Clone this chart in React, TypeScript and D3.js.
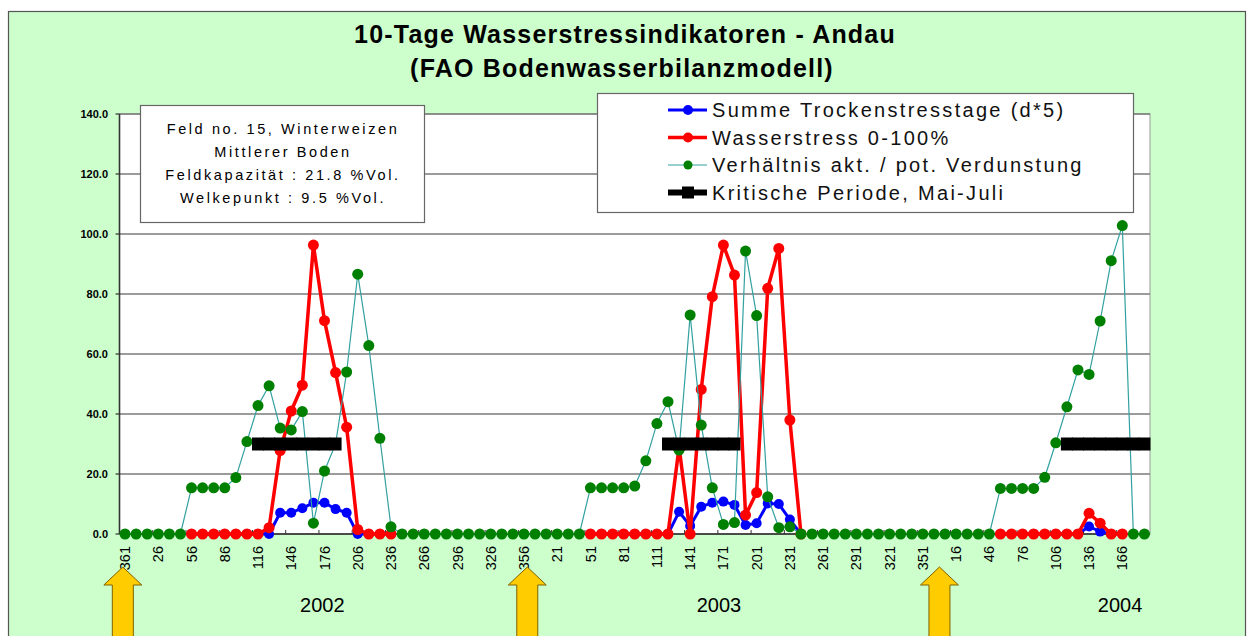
import React from 'react';
import * as d3 from 'd3';

// day of year for each 10-day step (361 of 2001 ... 186 of 2004)
const days = [
  361,
  6, 16, 26, 36, 46, 56, 66, 76, 86, 96, 106, 116, 126, 136, 146, 156, 166, 176,
  186, 196, 206, 216, 226, 236, 246, 256, 266, 276, 286, 296, 306, 316, 326, 336, 346, 356,
  1, 11, 21, 31, 41, 51, 61, 71, 81, 91, 101, 111, 121, 131, 141, 151, 161, 171, 181,
  191, 201, 211, 221, 231, 241, 251, 261, 271, 281, 291, 301, 311, 321, 331, 341, 351, 361,
  6, 16, 26, 36, 46, 56, 66, 76, 86, 96, 106, 116, 126, 136, 146, 156, 166, 176, 186,
];

const N = null;

// Summe Trockenstresstage (d*5)
const trockenstress = [
  N, N, N, N, N, N,
  0, 0, 0, 0, 0, 0, 0, 0, 7.1, 7.1, 8.6, 10.4, 10.4, 8.3, 7.1, 0, 0, 0, 0,
  N, N, N, N, N, N, N, N, N, N, N, N, N, N, N, N, N,
  0, 0, 0, 0, 0, 0, 0, 0, 7.4, 2.7, 9.1, 10.4, 10.8, 9.7, 3, 3.6, 10.2, 10, 4.8, 0,
  N, N, N, N, N, N, N, N, N, N, N, N, N, N, N, N, N,
  0, 0, 0, 0, 0, 0, 0, 0, 2.5, 0.8, 0, 0,
  N, N,
];

// Wasserstress 0-100%
const wasserstress = [
  N, N, N, N, N, N,
  0, 0, 0, 0, 0, 0, 0, 2.1, 27.8, 41, 49.6, 96.3, 71.1, 53.8, 35.6, 1.5, 0, 0, 0,
  N, N, N, N, N, N, N, N, N, N, N, N, N, N, N, N, N,
  0, 0, 0, 0, 0, 0, 0, 0, 29, 0, 48.2, 79.1, 96.3, 86.3, 6.3, 13.8, 81.9, 95.2, 38, 0,
  N, N, N, N, N, N, N, N, N, N, N, N, N, N, N, N, N,
  0, 0, 0, 0, 0, 0, 0, 0, 6.9, 3.6, 0, 0,
  N, N,
];

// Verhältnis akt. / pot. Verdunstung
const verhaeltnis = [
  0, 0, 0, 0, 0, 0,
  15.4, 15.4, 15.4, 15.4, 18.8, 30.8, 42.8, 49.4, 35.3, 34.7, 40.8, 3.6, 21, 30, 54, 86.6, 62.8, 31.9, 2.4,
  0, 0, 0, 0, 0, 0, 0, 0, 0, 0, 0, 0, 0, 0, 0, 0, 0,
  15.4, 15.4, 15.4, 15.4, 16, 24.4, 36.8, 44.1, 28, 73, 36.3, 15.4, 3.2, 3.8, 94.3, 72.8, 12.4, 2.1, 2.4,
  0, 0, 0, 0, 0, 0, 0, 0, 0, 0, 0, 0, 0, 0, 0, 0, 0, 0,
  15.2, 15.2, 15.2, 15.2, 18.9, 30.4, 42.4, 54.7, 53.2, 71, 91.1, 102.8, 0, 0,
];

// Kritische Periode, Mai-Juli
const kritisch = [
  N, N, N, N, N, N, N, N, N, N, N, N,
  30, 30, 30, 30, 30, 30, 30, 30,
  N, N, N, N, N, N, N, N, N, N, N, N, N, N, N, N, N, N, N, N, N, N, N, N, N, N, N, N, N,
  30, 30, 30, 30, 30, 30, 30,
  N, N, N, N, N, N, N, N, N, N, N, N, N, N, N, N, N, N, N, N, N, N, N, N, N, N, N, N, N,
  30, 30, 30, 30, 30, 30, 30, 30,
];

const yTicks = [0, 20, 40, 60, 80, 100, 120, 140];
const years = ['2002', '2003', '2004'];
const yearAt = [17.8, 53.6, 89.8];
const arrowAt = [-0.2, 36.3, 73.5];

const legendItems = [
  'Summe Trockenstresstage (d*5)',
  'Wasserstress 0-100%',
  'Verhältnis akt. / pot. Verdunstung',
  'Kritische Periode, Mai-Juli',
];
const infoLines = [
  'Feld no. 15,  Winterweizen',
  'Mittlerer Boden',
  'Feldkapazität : 21.8 %Vol.',
  'Welkepunkt : 9.5 %Vol.',
];

const FONT = '"Liberation Sans", Arial, sans-serif';

const App = () => {
  const W = 1252;
  const H = 636;
  const plot = { left: 119.5, right: 1150, top: 114, bottom: 534 };

  const x = d3.scaleLinear().domain([-0.5, days.length - 0.5]).range([plot.left, plot.right]);
  const y = d3.scaleLinear().domain([0, 140]).range([plot.bottom, plot.top]);

  const line = d3.line<number | null>()
    .defined(d => d != null)
    .x((d, i) => x(i))
    .y(d => y(d as number));

  const series = [
    { data: trockenstress, color: '#0000ff', width: 3, r: 5 },
    { data: wasserstress, color: '#ff0000', width: 3.5, r: 5.5 },
    { data: verhaeltnis, color: '#33a0a0', width: 1.2, r: 5.5, marker: '#008000' },
  ];

  const arrow = (cx: number) => {
    const tip = 567, base = 585, hw = 19, sw = 10.5;
    return `M${cx},${tip} L${cx + hw},${base} L${cx + sw},${base} L${cx + sw},${H + 5} L${cx - sw},${H + 5} L${cx - sw},${base} L${cx - hw},${base} Z`;
  };

  return (
    <svg width={W} height={H} style={{ position: 'absolute', left: 0, top: 0, fontFamily: FONT }}>
      <rect x={0} y={0} width={W} height={H} fill="#fff" />
      <rect x={8.5} y={11.5} width={1237} height={H} fill="#ccffcc" stroke="#555" strokeWidth={1.2} />

      {/* title */}
      <text x={625} y={43} textAnchor="middle" fontSize={25} fontWeight="bold" letterSpacing={1.2}>10-Tage Wasserstressindikatoren - Andau</text>
      <text x={622} y={77} textAnchor="middle" fontSize={25} fontWeight="bold" letterSpacing={1.2}>(FAO Bodenwasserbilanzmodell)</text>

      {/* plot area */}
      <rect x={plot.left} y={plot.top} width={plot.right - plot.left} height={plot.bottom - plot.top} fill="#fff" stroke="#999" />
      {yTicks.map(t => (
        <g key={t}>
          {t > 0 && <line x1={plot.left} x2={plot.right} y1={y(t)} y2={y(t)} stroke="#7a7a7a" strokeWidth={1.5} />}
          <line x1={plot.left - 4} x2={plot.left} y1={y(t)} y2={y(t)} stroke="#333" strokeWidth={1.2} />
          <text x={108} y={y(t)} dy="0.35em" textAnchor="end" fontSize={11} fontWeight="bold">{t.toFixed(1)}</text>
        </g>
      ))}
      <line x1={plot.left} x2={plot.left} y1={plot.top} y2={plot.bottom} stroke="#333" strokeWidth={1.6} />
      <line x1={plot.left} x2={plot.right} y1={plot.bottom} y2={plot.bottom} stroke="#222" strokeWidth={1.4} />
      {days.map((d, i) => (i % 3 === 0 ? (
        <g key={i}>
          <line x1={x(i - 0.5)} x2={x(i - 0.5)} y1={plot.bottom} y2={plot.bottom - 4} stroke="#333" />
          <text transform={`translate(${x(i)},546) rotate(-90)`} textAnchor="end" dy="0.35em" fontSize={14.5}>{d}</text>
        </g>
      ) : null))}

      {/* series */}
      {series.map((s, k) => (
        <g key={k}>
          <path d={line(s.data) || ''} fill="none" stroke={s.color} strokeWidth={s.width} strokeLinejoin="round" />
          {s.data.map((v, i) => (v == null ? null : (
            <circle key={i} cx={x(i)} cy={y(v)} r={s.r} fill={s.marker || s.color} />
          )))}
        </g>
      ))}
      <g>
        <path d={line(kritisch) || ''} fill="none" stroke="#000" strokeWidth={12} />
        {kritisch.map((v, i) => (v == null ? null : (
          <rect key={i} x={x(i) - 6} y={y(v) - 6.5} width={12} height={13} fill="#000" />
        )))}
      </g>

      {/* info box */}
      <rect x={140.5} y={105.5} width={284} height={117} fill="#fff" stroke="#666" strokeWidth={1.2} />
      {infoLines.map((t, i) => (
        <text key={i} x={283} y={134 + i * 23} textAnchor="middle" fontSize={14.5} letterSpacing={2.6}>{t}</text>
      ))}

      {/* legend */}
      <rect x={597.5} y={93.5} width={536} height={119} fill="#fff" stroke="#666" strokeWidth={1.2} />
      {legendItems.map((t, i) => {
        const ly = 110 + i * 27.5;
        const cols = ['#0000ff', '#ff0000', '#33a0a0', '#000'];
        const mk = ['#0000ff', '#ff0000', '#008000', '#000'];
        const sw = [3, 3.5, 1.2, 6][i];
        return (
          <g key={i}>
            <line x1={668} x2={707} y1={ly} y2={ly} stroke={cols[i]} strokeWidth={sw} />
            {i < 3
              ? <circle cx={688} cy={ly} r={i === 2 ? 4.5 : 5} fill={mk[i]} />
              : <rect x={682} y={ly - 6} width={12} height={12} fill="#000" />}
            <text x={712} y={ly} dy="0.36em" fontSize={20} letterSpacing={2.3} fill="#111">{t}</text>
          </g>
        );
      })}

      {/* year labels */}
      {years.map((t, i) => (
        <text key={t} x={x(yearAt[i])} y={612} textAnchor="middle" fontSize={20}>{t}</text>
      ))}

      {/* arrows */}
      {arrowAt.map((a, i) => (
        <path key={i} d={arrow(x(a))} fill="#ffcc00" stroke="#806000" strokeWidth={1} />
      ))}
    </svg>
  );
};

export default App;
